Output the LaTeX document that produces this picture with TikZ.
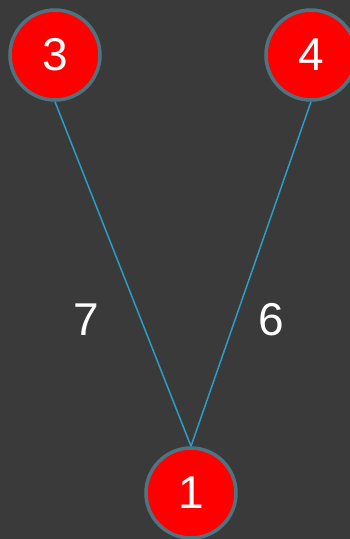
\documentclass[tikz,border=0pt]{standalone}
\usepackage{fontspec}
\setmainfont{Liberation Sans}
\definecolor{bgdark}{HTML}{3A3A3A}
\definecolor{rimgray}{HTML}{4E7482}
\definecolor{linkblue}{HTML}{2A9DC9}

\begin{document}
\begin{tikzpicture}[
  x=1pt, y=-1pt,
  vtx/.style={circle, draw=rimgray, line width=3.5pt, fill=red, minimum size=90pt,
              inner sep=0pt, text=white, font=\fontsize{46}{46}\selectfont},
  lk/.style={draw, linkblue, line width=1.5pt},
  wt/.style={text=white, font=\fontsize{46}{46}\selectfont}
]
  % background and frame
  \fill[bgdark] (0,0) rectangle (350,539);
  \useasboundingbox (0,0) rectangle (350,539);
  \node[vtx] (n3) at (55,55) {3};
  \node[vtx] (n4) at (311,55) {4};
  \node[vtx] (n1) at (191,493) {1};
  \draw[lk] (n3.south) -- (n1.north);
  \draw[lk] (n4.south) -- (n1.north);
  % edge weights
  \node[wt] (w7) at (86,320) {7};
  \node[wt] (w6) at (271,320) {6};
\end{tikzpicture}
\end{document}
